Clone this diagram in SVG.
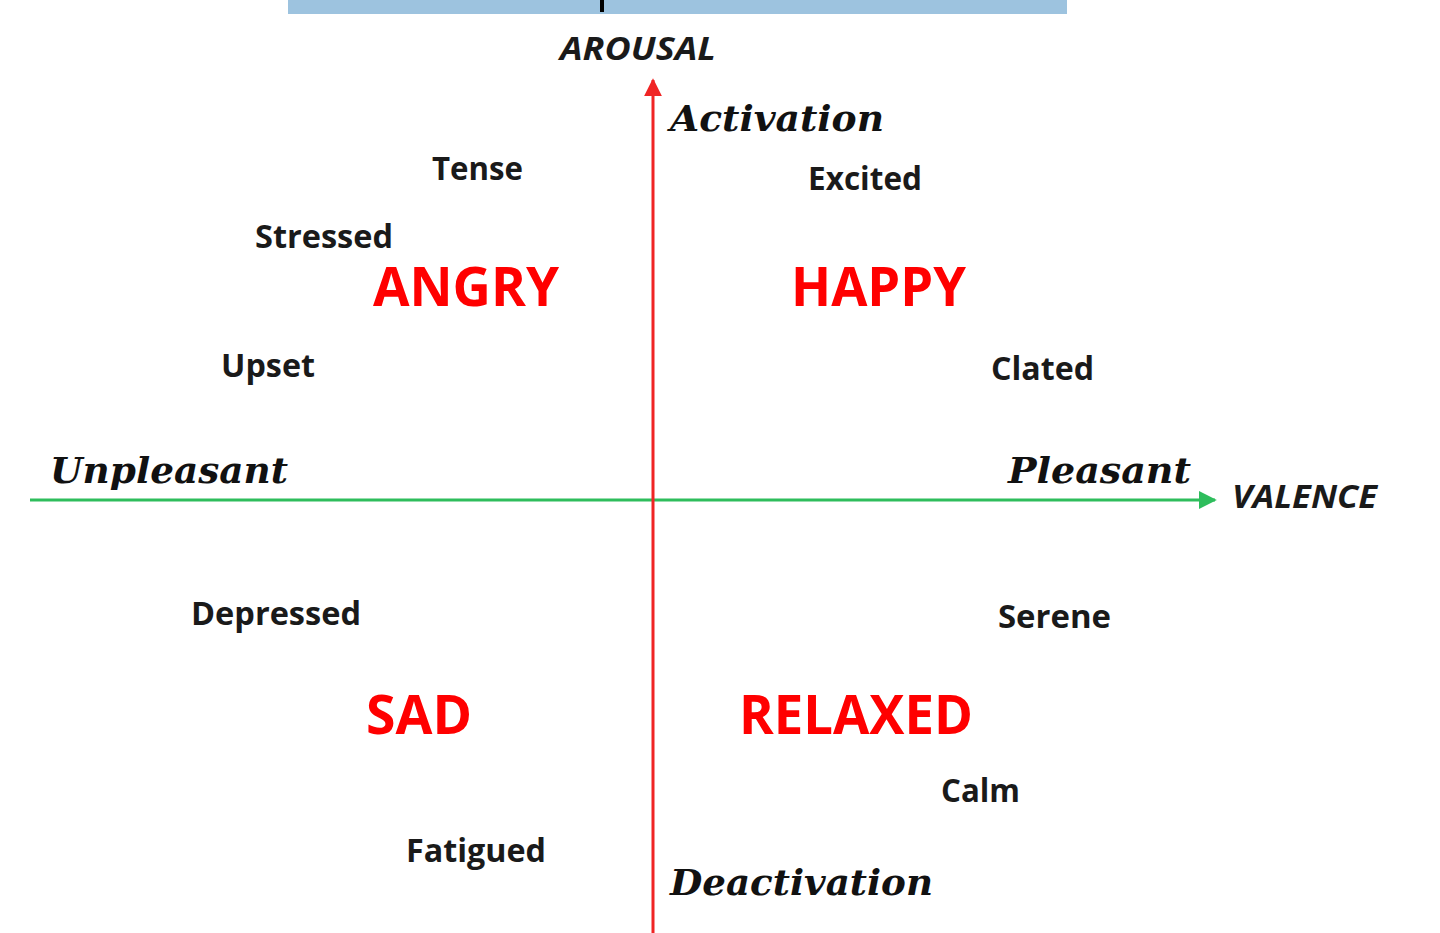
<svg xmlns="http://www.w3.org/2000/svg" width="1440" height="933" viewBox="0 0 1440 933">
<style>
.word{font-family:"Open Sans","Liberation Sans",sans-serif;font-weight:700;fill:#1a1a1a;font-size:32px}
.emo{font-family:"Open Sans","Liberation Sans",sans-serif;font-weight:700;fill:#ff0000;font-size:54px}
.pole{font-family:"DejaVu Serif","Liberation Serif",serif;font-weight:700;font-style:italic;fill:#111;font-size:35px}
.axis{font-family:"Open Sans","Liberation Sans",sans-serif;font-weight:700;font-style:italic;fill:#1a1a1a;font-size:32px}
</style>
<defs>
<marker id="arrR" viewBox="0 0 10 10" refX="9" refY="5" markerWidth="6" markerHeight="6" orient="auto" markerUnits="strokeWidth"><path d="M0,0 L10,5 L0,10 Z" fill="#f02424"/></marker>
<marker id="arrG" viewBox="0 0 10 10" refX="9" refY="5" markerWidth="6" markerHeight="6" orient="auto" markerUnits="strokeWidth"><path d="M0,0 L10,5 L0,10 Z" fill="#2ebd5c"/></marker>
</defs>
<rect width="1440" height="933" fill="#ffffff"/>
<g id="topbar">
<rect x="288" y="0" width="779" height="14" fill="#9dc3df"/>
<line x1="602" y1="0" x2="602" y2="12" stroke="#000" stroke-width="4"/>
</g>
<g id="connectors">
<line x1="30" y1="500" x2="1215" y2="500" stroke="#2ebd5c" stroke-width="3" marker-end="url(#arrG)"/>
<line x1="653" y1="933" x2="653" y2="80" stroke="#f02424" stroke-width="3" marker-end="url(#arrR)"/>
</g>
<g id="axis-labels">
<text class="axis" x="560" y="60" textLength="156" lengthAdjust="spacingAndGlyphs">AROUSAL</text>
<text class="axis" x="1232" y="508" textLength="145" lengthAdjust="spacingAndGlyphs">VALENCE</text>
</g>
<g id="poles">
<text class="pole" x="670" y="131" textLength="214" lengthAdjust="spacingAndGlyphs">Activation</text>
<text class="pole" x="50" y="483" textLength="238" lengthAdjust="spacingAndGlyphs">Unpleasant</text>
<text class="pole" x="1008" y="483" textLength="183" lengthAdjust="spacingAndGlyphs">Pleasant</text>
<text class="pole" x="670" y="895" textLength="263" lengthAdjust="spacingAndGlyphs">Deactivation</text>
</g>
<g id="angry">
<text class="emo" x="373" y="306" textLength="186" lengthAdjust="spacingAndGlyphs">ANGRY</text>
<text class="word" x="432" y="180" textLength="91" lengthAdjust="spacingAndGlyphs">Tense</text>
<text class="word" x="255" y="248" textLength="138" lengthAdjust="spacingAndGlyphs">Stressed</text>
<text class="word" x="221" y="377" textLength="94" lengthAdjust="spacingAndGlyphs">Upset</text>
</g>
<g id="happy">
<text class="emo" x="791" y="306" textLength="175" lengthAdjust="spacingAndGlyphs">HAPPY</text>
<text class="word" x="808" y="190" textLength="114" lengthAdjust="spacingAndGlyphs">Excited</text>
<text class="word" x="991" y="380" textLength="103" lengthAdjust="spacingAndGlyphs">Clated</text>
</g>
<g id="sad">
<text class="emo" x="366" y="734" textLength="106" lengthAdjust="spacingAndGlyphs">SAD</text>
<text class="word" x="191" y="625" textLength="170" lengthAdjust="spacingAndGlyphs">Depressed</text>
<text class="word" x="406" y="862" textLength="140" lengthAdjust="spacingAndGlyphs">Fatigued</text>
</g>
<g id="relaxed">
<text class="emo" x="739" y="734" textLength="234" lengthAdjust="spacingAndGlyphs">RELAXED</text>
<text class="word" x="998" y="628" textLength="113" lengthAdjust="spacingAndGlyphs">Serene</text>
<text class="word" x="941" y="802" textLength="79" lengthAdjust="spacingAndGlyphs">Calm</text>
</g>
</svg>
